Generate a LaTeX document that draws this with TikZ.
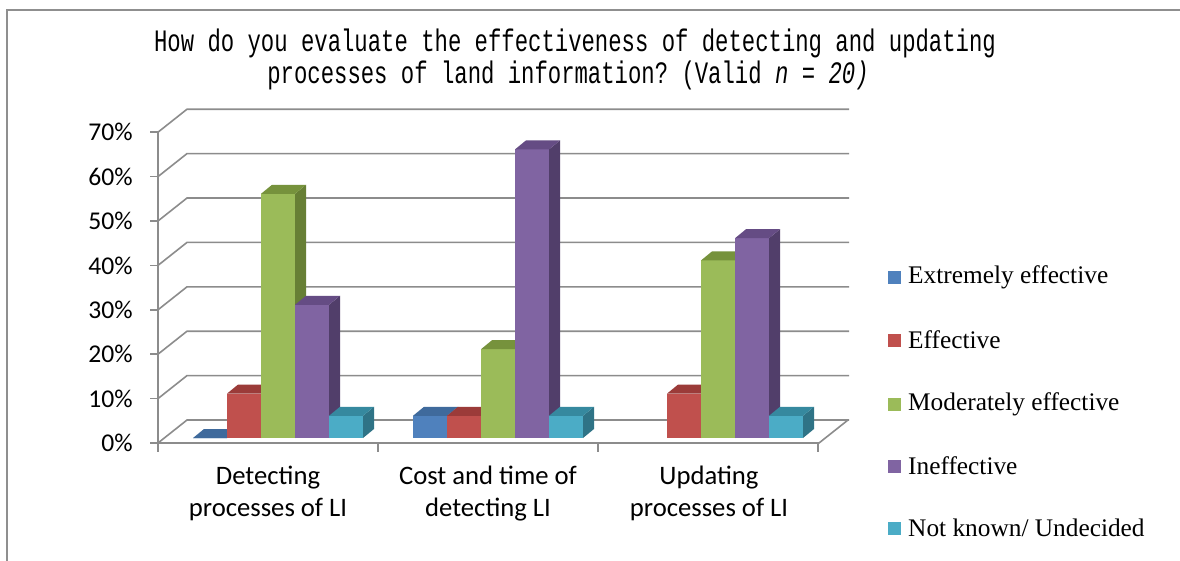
\documentclass[tikz,border=0pt]{standalone}
\usepackage{fontspec}
\setsansfont{Carlito}
\setmonofont{Liberation Mono}
\newfontfamily\keyfont{Liberation Serif}
\usetikzlibrary{positioning}

\definecolor{gridgray}{HTML}{8C8C8C}
\definecolor{framegray}{HTML}{8F8F8F}
\definecolor{serA}{HTML}{4F81BD}
\definecolor{serAtop}{HTML}{3F6A9C}
\definecolor{serAside}{HTML}{385D8A}
\definecolor{serB}{HTML}{C0504D}
\definecolor{serBtop}{HTML}{9B3B39}
\definecolor{serBside}{HTML}{8C3836}
\definecolor{serC}{HTML}{9BBB59}
\definecolor{serCtop}{HTML}{76923C}
\definecolor{serCside}{HTML}{677F35}
\definecolor{serD}{HTML}{8064A2}
\definecolor{serDtop}{HTML}{654C84}
\definecolor{serDside}{HTML}{513E6A}
\definecolor{serE}{HTML}{4BACC6}
\definecolor{serEtop}{HTML}{36899F}
\definecolor{serEside}{HTML}{2F7386}

\tikzset{
  grid line/.style={draw=gridgray, line width=1.2pt},
  axis label/.style={font=\sffamily\fontsize{19.2}{23.5}\selectfont, inner sep=0pt},
  cat label/.style={axis label, font=\sffamily\fontsize{20}{23.5}\selectfont, align=center},
  key text/.style={font=\keyfont\fontsize{19}{22}\selectfont, inner sep=0pt, anchor=west},
  key box/.style={minimum size=9.75pt, inner sep=0pt},
  title text/.style={font=\ttfamily\fontsize{16.7}{20}\selectfont, inner sep=0pt}
}

% one 3d column: left x, value in %, colour name
\newcommand\colbar[3]{%
  \pgfmathsetmacro\bartop{438-4.44*#2}
  \fill[#3] (#1,438) rectangle (#1+34,\bartop);
  \fill[#3side] (#1+34,438) -- (#1+45,429) -- (#1+45,\bartop-9) -- (#1+34,\bartop) -- cycle;
  \fill[#3top] (#1,\bartop) -- (#1+34,\bartop) -- (#1+45,\bartop-9) -- (#1+11,\bartop-9) -- cycle;
}

\begin{document}
\begin{tikzpicture}[x=0.75pt, y=-0.75pt]
        \useasboundingbox (0,0) rectangle (1180,560);
        \fill[white] (0,0) rectangle (1180,560);
        \draw[draw=framegray, line width=1.6pt] (1182,10) -- (7,10) -- (7,562);

        \node[title text] (title1) at (575,43) {\scalebox{1}[1.4]{How do you evaluate the effectiveness of detecting and updating}};
        \node[title text] (title2) at (568,75) {\scalebox{1}[1.4]{processes of land information? (Valid \textit{n = 20)}}};

        % walls and gridlines
        \foreach \p in {0,10,...,70} {
            \draw[grid line] (158,443-4.44*\p) -- ++(29,-23) -- (849,420-4.44*\p);
            \draw[grid line] (150,443-4.44*\p) -- (158,443-4.44*\p);
            \node[axis label, anchor=east] (y\p) at (133,443-4.44*\p) {\p\%};
        }
        \draw[grid line] (158,132.2) -- (158,452);
        \draw[grid line] (158,443) -- (819,443) -- (848,420);
        \foreach \t in {378,598,818}
            \draw[grid line] (\t,443) -- (\t,452);

        % columns
        \foreach \v/\s [count=\i from 0] in {0/serA,10/serB,55/serC,30/serD,5/serE}
            \colbar{193+34*\i}{\v}{\s};
        \foreach \v/\s [count=\i from 0] in {5/serA,5/serB,20/serC,65/serD,5/serE}
            \colbar{413+34*\i}{\v}{\s};
        \foreach \v/\s [count=\i from 0] in {10/serB,40/serC,45/serD,5/serE}
            \colbar{667+34*\i}{\v}{\s};

        \node[cat label] (catA) at (268,493.5) {Detecting\\processes of LI};
        \node[cat label] (catB) at (488,493.5) {Cost and time of\\detecting LI};
        \node[cat label] (catC) at (709,493.5) {Updating\\processes of LI};

        % legend
        \node[key box, fill=serA] (keyA) at (894.5,277) {};
        \node[key box, fill=serB] (keyB) at (894.5,340) {};
        \node[key box, fill=serC] (keyC) at (894.5,404) {};
        \node[key box, fill=serD] (keyD) at (894.5,466) {};
        \node[key box, fill=serE] (keyE) at (894.5,528) {};
        \node[key text, right=5pt of keyA] (txtA) {Extremely effective};
        \node[key text, right=5pt of keyB] (txtB) {Effective};
        \node[key text, right=5pt of keyC] (txtC) {Moderately effective};
        \node[key text, right=5pt of keyD] (txtD) {Ineffective};
        \node[key text, right=5pt of keyE] (txtE) {Not known/ Undecided};
    \end{tikzpicture}
\end{document}
